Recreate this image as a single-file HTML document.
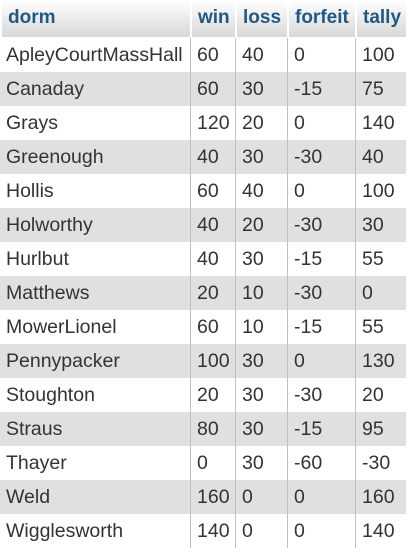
<!DOCTYPE html>
<html><head><meta charset="utf-8"><style>
body{margin:0;width:409px;height:558px;background:#fff;font-family:"Liberation Sans",Arial,sans-serif;overflow:hidden}
#t{position:absolute;left:0;top:0;width:406px}
.r{position:absolute;left:0;width:406px;height:34px}
.c{position:absolute;top:0;height:100%;line-height:35px;font-size:19.5px;color:#333;padding-left:6px;box-sizing:border-box;border-left:1px solid #c0c0c0;white-space:nowrap}
.h{background:linear-gradient(#fff,#d8d8d8);height:37px}
.h .c{line-height:35px;color:#1f5a85;font-weight:bold;font-size:19px;border-left:2px solid #fff}
.g{background:#e0e0e0}
</style></head><body>
<div id="t"></div>
<script>
const dorms=["ApleyCourtMassHall","Canaday","Grays","Greenough","Hollis","Holworthy","Hurlbut","Matthews","MowerLionel","Pennypacker","Stoughton","Straus","Thayer","Weld","Wigglesworth"];
const win=[60,60,120,40,60,40,40,20,60,100,20,80,0,160,140];
const loss=[40,30,20,30,40,20,30,10,10,30,30,30,30,0,0];
const forfeit=[0,-15,0,-30,0,-30,-15,-30,-15,0,-30,-15,-60,0,0];
const tally=[100,75,140,40,100,30,55,0,55,130,20,95,-30,160,140];
const headers=["dorm","win","loss","forfeit","tally"];
const xs=[0,190,235,287,355,406];
const t=document.getElementById('t');
function row(vals,top,cls,name){
  const r=document.createElement('div');
  r.className='r '+cls;r.style.top=top+'px';
  
  
  vals.forEach((v,i)=>{
    const c=document.createElement('div');c.className='c';
    c.style.left=xs[i]+'px';c.style.width=(xs[i+1]-xs[i])+'px';
    if(i===0&&cls!=='h')c.style.borderLeft='none';
    c.textContent=v;
    
    
    r.appendChild(c);
  });
  t.appendChild(r);
}
row(headers,0,'h','header-row');
dorms.forEach((d,i)=>row([d,win[i],loss[i],forfeit[i],tally[i]],38+i*34,i%2?'g':'','row-'+d.toLowerCase()));
</script>
</body></html>
